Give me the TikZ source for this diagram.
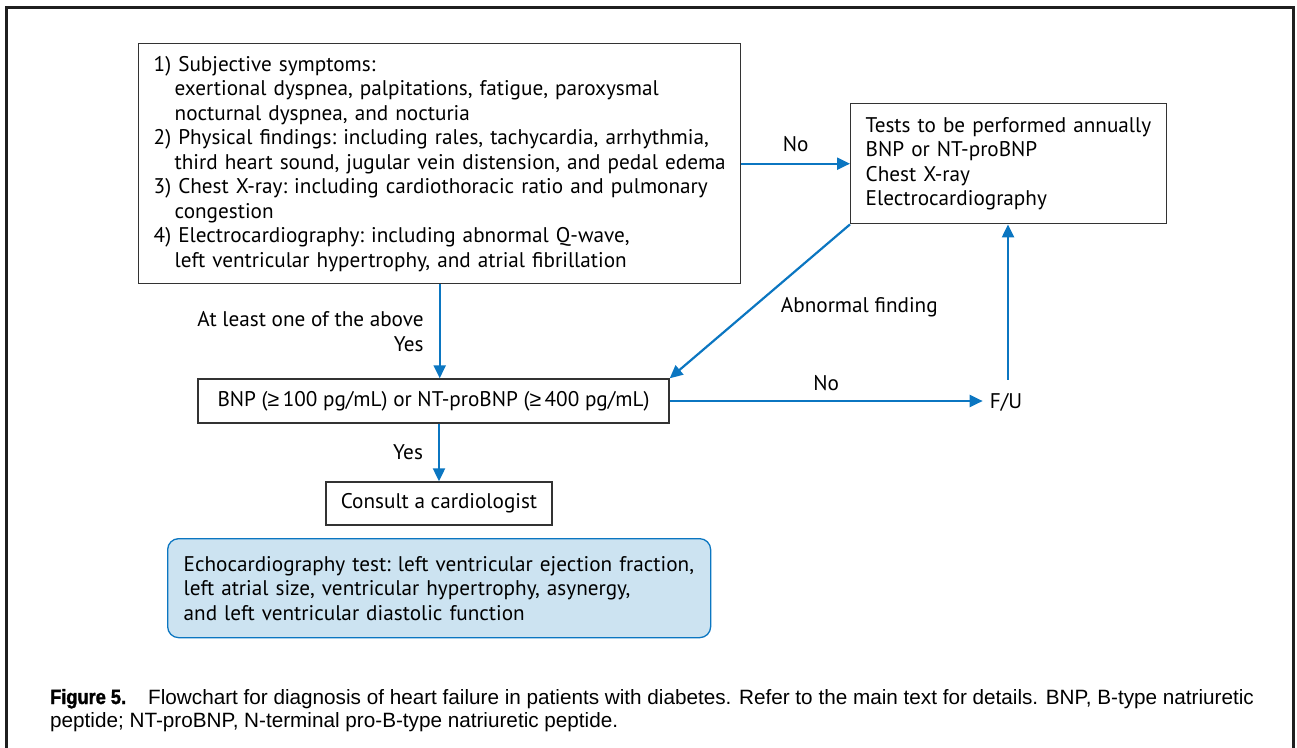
\documentclass[tikz,border=0pt]{standalone}
\usepackage{fontspec}
\setmainfont{PT Sans}
\newfontfamily\symfont{Liberation Sans}
\newfontfamily\capfont{Liberation Sans}
\newfontfamily\capboldfont{Liberation Sans}[FakeStretch=0.88,FakeBold=1.6]
\usetikzlibrary{arrows.meta}
\definecolor{flowblue}{HTML}{0B76C1}
\definecolor{echofill}{HTML}{CCE3F1}
\definecolor{boxline}{HTML}{333333}
\newcommand{\oneline}[1]{\mbox{#1}}
\newcommand{\ind}{\hspace*{21pt}}
\tikzset{
  flowfont/.style={font=\frenchspacing\fontsize{21.2}{24.5}\selectfont},
  box/.style={draw=boxline, line width=1.4pt, fill=white, inner xsep=15pt, inner ysep=0pt,
    flowfont, align=left},
  plainbox/.style={draw=boxline, line width=1.4pt, fill=white, inner sep=0pt,
    flowfont, align=center},
  echobox/.style={draw=flowblue, line width=1.3pt, fill=echofill, rounded corners=11pt,
    inner xsep=16pt, inner ysep=0pt, flowfont, align=left},
  arr/.style={draw=flowblue, line width=2.2pt, -{Triangle[length=13pt,width=12pt]}},
  lbl/.style={flowfont, inner sep=0pt},
  frame/.style={draw=black!88, line width=2.2pt},
  captext/.style={anchor=base west, inner sep=0pt, font=\capfont\fontsize{20.7}{23}\selectfont},
}
\begin{document}
\begin{tikzpicture}[x=1pt,y=-1pt]
\useasboundingbox (0,0) rectangle (1297,747);
% outer frame, open at the bottom
\draw[frame] (6.5,750) -- (6.5,7.5) -- (1293.5,7.5) -- (1293.5,750);

% boxes
\node[box, anchor=north west, text width=572pt, minimum height=240pt] (crit) at (138,43)
{\oneline{1) Subjective symptoms:}\\
\oneline{\ind exertional dyspnea, palpitations, fatigue, paroxysmal}\\
\oneline{\ind nocturnal dyspnea, and nocturia}\\
\oneline{2) Physical findings: including rales, tachycardia, arrhythmia,}\\
\oneline{\ind third heart sound, jugular vein distension, and pedal edema}\\
\oneline{3) Chest X-ray: including cardiothoracic ratio and pulmonary}\\
\oneline{\ind congestion}\\
\oneline{4) Electrocardiography: including abnormal Q-wave,}\\
\oneline{\ind left ventricular hypertrophy, and atrial fibrillation}};

\node[box, anchor=north west, text width=286pt, minimum height=120pt] (tests) at (850,103)
{\oneline{Tests to be performed annually}\\
BNP or NT-proBNP\\
Chest X-ray\\
Electrocardiography};

\node[plainbox, minimum width=471pt, minimum height=44pt] (bnp) at (433.5,401)
{BNP ({\symfont ≥}\,100 pg/mL) or NT-proBNP ({\symfont ≥}\,400 pg/mL)};

\node[plainbox, minimum width=226pt, minimum height=43pt] (consult) at (439,503.5)
{Consult a cardiologist};

\node[echobox, anchor=north west, text width=511pt, minimum height=99pt] (echo) at (167,538)
{\oneline{Echocardiography test: left ventricular ejection fraction,}\\
\oneline{left atrial size, ventricular hypertrophy, asynergy,}\\
\oneline{and left ventricular diastolic function}};

\node[lbl] (fu) at (1006,402) {F/U};

% connectors
\draw[arr] (crit.east) -- node[lbl, above=11pt] {No} (tests.west);
\draw[arr] (crit.south) -- node[lbl, left=15pt, align=right] {At least one of the above\\Yes} (crit.south |- bnp.north);
\draw[arr] (tests.south west) -- node[lbl, anchor=west, xshift=20pt, yshift=-6pt] {Abnormal finding} (bnp.north east);
\draw[arr] (bnp.east) -- node[lbl, above=9pt] {No} ([xshift=-7pt]bnp.east -| fu.west);
\draw[arr] ([xshift=2pt,yshift=13pt]fu.north) -- ([xshift=2pt]fu.north |- tests.south);
\draw[arr] (consult.north |- bnp.south) -- node[lbl, left=15pt] {Yes} (consult.north);

% caption
\node[captext, font=\capboldfont\bfseries\fontsize{20.7}{23}\selectfont] (capfig) at (50,704) {Figure 5.};
\node[captext] (capl1) at (148,704)
{Flowchart for diagnosis of heart failure in patients with diabetes. Refer to the main text for details. BNP, B-type natriuretic};
\node[captext] (capl2) at (50,727)
{peptide; NT-proBNP, N-terminal pro-B-type natriuretic peptide.};
\end{tikzpicture}
\end{document}
